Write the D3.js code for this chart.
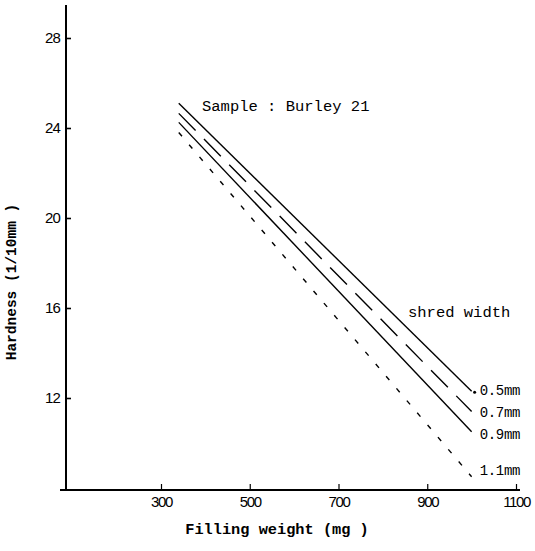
<!DOCTYPE html>
<html><head><meta charset="utf-8">
<script src="https://d3js.org/d3.v7.min.js"></script>
<style>
html,body{margin:0;padding:0;background:#fff;}
svg{display:block;}
</style></head>
<body>
<svg id="chart" width="535" height="551"></svg>
<script>
// ---- data ----
const xTicks = [300, 500, 700, 900, 1100];
const yTicks = [12, 16, 20, 24, 28];
const seriesNames = ["0.5mm", "0.7mm", "0.9mm", "1.1mm"];
const seriesX = [340, 1000];
const s05 = [25.1, 12.3];
const s07 = [24.65, 11.4];
const s09 = [24.25, 10.5];
const s11 = [23.8, 8.5];
const seriesValues = [s05, s07, s09, s11];
const sampleLabel = "Sample : Burley 21";
const legendTitle = "shred width";
const xTitle = "Filling weight (mg )";
const yTitle = "Hardness (1/10mm )";

// ---- scales ----
const svg = d3.select("#chart");
const x = d3.scaleLinear().domain([300, 1100]).range([161, 516]);
const y = d3.scaleLinear().domain([12, 28]).range([398, 38]);
const axisX = 66, axisY = 490;

const mono = "'Liberation Mono', 'DejaVu Sans Mono', monospace";
const sans = "'Liberation Sans', Arial, sans-serif";

// y axis
const gy = svg.append("g").attr("transform", `translate(${axisX},0)`)
  .call(d3.axisLeft(y).tickValues(yTicks).tickSizeInner(-5).tickSizeOuter(0).tickPadding(6).tickFormat(d3.format("d")));
gy.select(".domain").remove();
gy.selectAll(".tick line").attr("stroke", "#000").attr("stroke-width", 1.6);
gy.selectAll(".tick text").attr("font-family", sans).attr("font-size", 15).attr("letter-spacing", -0.8).attr("fill", "#000");
svg.append("line").attr("x1", axisX).attr("x2", axisX).attr("y1", 5).attr("y2", axisY + 1)
  .attr("stroke", "#000").attr("stroke-width", 2);

// x axis
const gx = svg.append("g").attr("transform", `translate(0,${axisY})`)
  .call(d3.axisBottom(x).tickValues(xTicks).tickSizeInner(-6).tickSizeOuter(0).tickPadding(6).tickFormat(d3.format("d")));
gx.select(".domain").remove();
gx.selectAll(".tick line").attr("stroke", "#000").attr("stroke-width", 1.2);
gx.selectAll(".tick text").attr("font-family", sans).attr("font-size", 15).attr("letter-spacing", -1.4).attr("fill", "#000");
svg.append("line").attr("x1", 60).attr("x2", 520).attr("y1", axisY).attr("y2", axisY)
  .attr("stroke", "#000").attr("stroke-width", 2);

// series lines
const dashes = [null, "24,12", null, "5,11"];
const line = d3.line().x(d => x(d[0])).y(d => y(d[1]));
seriesValues.forEach((vals, i) => {
  const pts = seriesX.map((xv, j) => [xv, vals[j]]);
  svg.append("path").attr("d", line(pts)).attr("fill", "none")
    .attr("stroke", "#000").attr("stroke-width", 1.4)
    .attr("stroke-dasharray", dashes[i]);
});

// series labels
const labelDy = [0, 1, 3, -6];
seriesValues.forEach((vals, i) => {
  svg.append("text").attr("x", x(seriesX[1]) + 8).attr("y", y(vals[1]) + labelDy[i])
    .attr("dominant-baseline", "central").attr("font-family", mono).attr("font-size", 14)
    .attr("letter-spacing", -0.3).attr("fill", "#000").text(seriesNames[i]);
});
svg.append("circle").attr("cx", x(seriesX[1]) + 3).attr("cy", y(s05[1]) + 1).attr("r", 1.5).attr("fill", "#000");

// annotations
svg.append("text").attr("x", 202).attr("y", 107).attr("dominant-baseline", "central")
  .attr("font-family", mono).attr("font-size", 15.5).attr("fill", "#000").text(sampleLabel);
svg.append("text").attr("x", 408).attr("y", 313).attr("dominant-baseline", "central")
  .attr("font-family", mono).attr("font-size", 15.5).attr("fill", "#000").text(legendTitle);

// axis titles
svg.append("text").attr("x", 277).attr("y", 530).attr("text-anchor", "middle").attr("dominant-baseline", "central")
  .attr("font-family", mono).attr("font-weight", "bold").attr("font-size", 15.3).attr("fill", "#000").text(xTitle);
svg.append("text").attr("transform", "translate(12,282) rotate(-90)").attr("text-anchor", "middle")
  .attr("dominant-baseline", "central").attr("font-family", mono).attr("font-weight", "bold")
  .attr("font-size", 14.5).attr("fill", "#000").text(yTitle);
</script>
</body></html>
